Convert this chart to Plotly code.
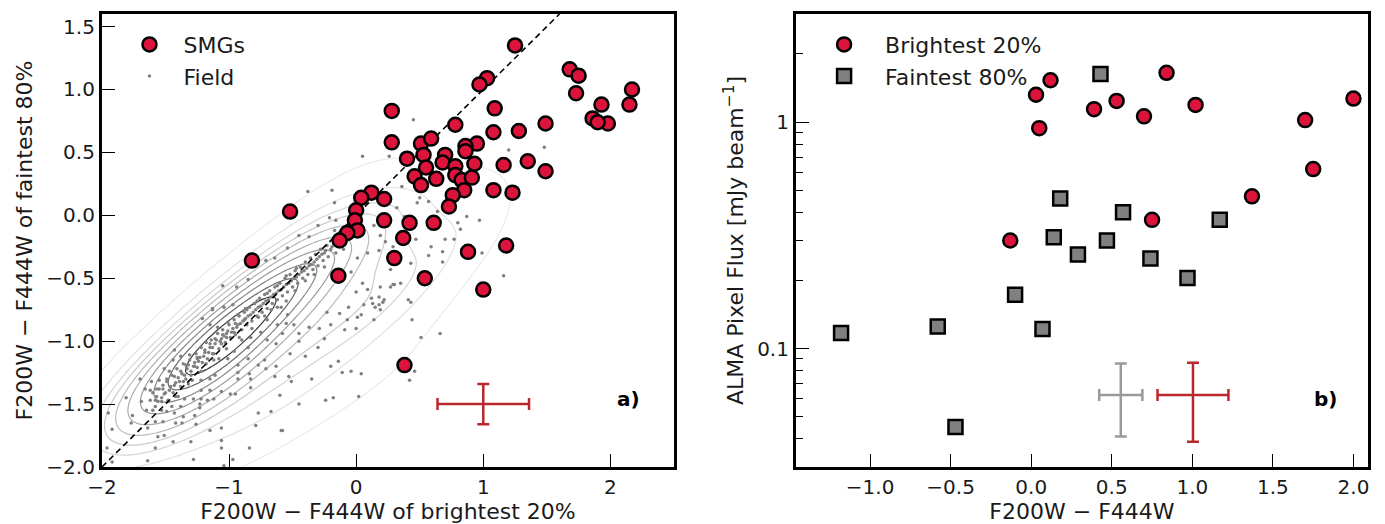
import numpy as np
import plotly.graph_objects as go

# ---------------- data: panel a ----------------
smg_x = [-0.82, -0.52, 1.25, 1.68, 1.75, 1.73, 2.17, 2.15, 1.93, 1.86, 1.98, 1.90,
         1.03, 0.97, 0.28, 1.09, 0.78, 1.49, 1.08, 1.28, 0.28, 0.51, 0.59, 0.95,
         0.86, 0.86, 0.40, 0.53, 0.70, 0.68, 0.93, 0.78, 0.55, 1.16, 1.35, 1.49,
         0.78, 0.46, 0.63, 0.83, 0.91, 0.51, 0.85, 1.08, 1.23, 0.76, 0.73, 0.12,
         0.04, 0.22, 0.00, -0.01, 0.01, -0.07, -0.13, 0.22, 0.42, 0.61, 0.37,
         0.88, 1.18, 0.30, -0.14, 0.54, 1.00, 0.38]
smg_y = [-0.36, 0.03, 1.35, 1.16, 1.11, 0.97, 1.00, 0.88, 0.88, 0.77, 0.73, 0.74,
         1.09, 1.04, 0.83, 0.85, 0.72, 0.73, 0.66, 0.67, 0.58, 0.57, 0.61, 0.57,
         0.55, 0.51, 0.45, 0.48, 0.48, 0.42, 0.41, 0.39, 0.38, 0.40, 0.43, 0.35,
         0.32, 0.31, 0.29, 0.28, 0.30, 0.24, 0.20, 0.20, 0.18, 0.16, 0.07, 0.18,
         0.14, 0.13, 0.04, -0.04, -0.12, -0.14, -0.20, -0.04, -0.06, -0.06, -0.18,
         -0.29, -0.24, -0.34, -0.48, -0.50, -0.59, -1.19]

field_pts = [
    (-1.95,-1.57),(-1.92,-1.70),(-1.96,-1.85),(-1.92,-1.96),(-1.81,-1.45),(-1.76,-1.59),(-1.77,-1.65),
    (-1.70,-1.30),(-1.64,-1.95),(-1.58,-1.85),(-1.56,-1.76),(-1.51,-1.75),(-1.64,-1.69),(-1.58,-1.64),
    (-1.52,-1.64),(-1.42,-1.65),(-1.37,-1.65),(-1.44,-1.80),(-1.30,-1.80),(-1.28,-1.94),(-1.26,-1.66),
    (-1.27,-1.59),(-1.23,-1.53),(-1.23,-1.50),(-1.28,-1.46),(-1.22,-1.46),(-1.17,-1.47),(-1.12,-1.46),
    (-1.15,-1.71),(-1.06,-1.69),(-1.06,-1.79),(-1.06,-1.85),(-1.04,-1.99),(-0.97,-1.94),(-0.84,-1.85),
    (-0.79,-1.67),(-0.77,-1.57),(-0.67,-1.56),(-0.58,-1.71),(-0.60,-1.43),(-0.64,-1.28),(-0.53,-1.28),
    (-0.51,-1.32),(-0.72,-1.15),(-0.77,-1.19),(-0.84,-1.26),(-0.83,-1.30),(-0.83,-1.37),(-0.93,-1.30),
    (-0.93,-1.25),(-0.99,-1.42),(-0.95,-1.42),(-1.06,-1.40),(-1.36,-1.60),(-1.43,-1.57),(-1.49,-1.56),
    (-1.53,-1.55),(-1.60,-1.55),(-1.65,-1.55),(-1.69,-1.48),(-1.66,-1.38),(-1.62,-1.39),(-1.57,-1.38),
    (-1.52,-1.38),(-1.61,-1.32),(-1.55,-1.31),(-1.49,-1.32),(-1.58,-1.47),(-1.53,-1.48),(-1.48,-1.47),
    (-1.40,-1.44),(-1.35,-1.46),(-1.45,-1.52),(-1.38,-1.52),(-1.51,-1.22),(-1.47,-1.24),(-1.43,-1.28),
    (-1.38,-1.24),(-1.44,-1.15),(-1.38,-1.12),(-1.43,-1.07),(-1.34,-1.19),(-1.27,-1.20),(-1.30,-1.27),
    (-1.22,-1.31),(-1.15,-1.30),(-1.11,-1.27),(-1.31,-1.11),(-1.25,-1.14),(-1.18,-1.18),(-1.19,-1.07),
    (-1.13,-1.10),(-1.08,-1.14),(-1.01,-1.14),(-0.96,-1.08),(-1.06,-1.02),(-1.11,-0.98),(-1.02,-0.97),
    (-0.96,-0.93),(-0.90,-0.99),(-0.85,-1.05),(-0.83,-0.97),(-0.75,-0.93),(-0.70,-0.99),(-0.63,-1.02),
    (-0.58,-0.94),(-0.62,-0.87),(-0.55,-0.86),(-0.70,-0.83),(-0.77,-0.81),(-0.88,-0.83),(-0.93,-0.79),
    (-1.01,-0.85),(-1.09,-0.89),(-1.15,-0.87),(-1.21,-0.82),(-1.13,-0.74),(-1.04,-0.73),(-0.97,-0.71),
    (-0.87,-0.74),(-0.80,-0.70),(-0.67,-0.75),(-0.59,-0.73),(-0.54,-0.79),(-0.93,-1.19),(-0.85,-1.14),
    (-0.71,-1.22),(-1.36,-1.32),(-1.22,-1.39),(-1.15,-1.39),
    (-0.38,0.19),(-0.19,0.20),(0.05,0.47),(0.26,0.47),(-0.17,0.10),(-0.30,-0.08),(-0.45,-0.16),
    (-0.37,-0.17),(-0.54,-0.26),(-0.64,-0.34),(-0.71,-0.36),(-0.85,-0.51),(-0.94,-0.57),(-1.05,-0.56),
    (-1.13,-0.75),(-0.17,-0.12),(-0.16,-0.04),(-0.21,-0.02),(0.14,-0.08),(0.19,-0.16),(0.23,-0.21),
    (0.29,-0.25),(0.18,-0.28),(0.09,-0.30),(0.01,-0.34),(-0.04,-0.45),(0.05,-0.54),(0.00,-0.61),
    (0.09,-0.59),(0.18,-0.65),(0.13,-0.70),(0.29,-0.55),(0.19,-0.75),(0.04,-0.79),(-0.07,-0.83),
    (-0.13,-0.78),(-0.23,-0.77),(-0.20,-0.87),(-0.09,-0.91),(0.00,-0.90),(-0.29,-0.90),(-0.37,-0.89),
    (-0.45,-0.94),(-0.49,-0.87),
    (0.32,0.06),(0.48,0.10),(0.38,-0.01),(0.87,-0.01),(0.97,-0.04),(0.80,-0.06),(0.82,-0.11),
    (0.70,-0.19),(0.77,-0.19),(0.99,-0.30),(1.16,-0.48),(0.68,-0.29),(0.68,-0.37),(0.57,-0.32),
    (0.43,-0.38),(0.35,-0.54),(0.30,-0.55),(0.41,-0.67),(0.44,-0.83),(0.51,-0.97),(0.66,-0.94),
    (0.46,-1.24),(0.42,-1.31),(0.22,-0.67),(0.18,-0.71),(0.14,-0.83),(0.12,-0.66),(0.06,-0.71),
    (0.01,-0.81),(-0.06,-0.73),(-0.14,-1.16),(-0.11,-1.25),(-0.04,-1.24),(0.04,-1.26),(-0.18,-1.45),
    (0.02,-1.44),(0.30,-0.35),(0.27,-0.43),(0.19,-0.57),(0.59,-0.25),(0.47,-0.19),(0.70,0.09),
    (0.64,0.03),(0.45,0.76),(1.20,0.52),(1.48,0.54),(0.36,0.23),(0.57,0.11),(0.50,0.14),
    (-0.24,-1.47),(-0.45,-1.50),(-0.59,-1.71),(0.43,-0.69),(0.15,-0.73),(0.21,-0.69),(0.27,-0.57),
    (-0.45,-1.00),(-0.52,-1.10),(-0.63,-1.20),(-0.40,-1.12),(-0.30,-1.05),(-0.25,-0.98),(-0.35,-1.30),
    (-0.20,-1.20),
    (-1.62,-1.47),(-1.60,-1.41),(-1.58,-1.52),(-1.57,-1.44),(-1.55,-1.38),(-1.53,-1.45),(-1.52,-1.35),
    (-1.50,-1.41),(-1.49,-1.30),(-1.48,-1.48),(-1.46,-1.36),(-1.45,-1.27),(-1.44,-1.41),(-1.42,-1.33),
    (-1.41,-1.22),(-1.40,-1.29),(-1.38,-1.36),(-1.37,-1.26),(-1.36,-1.18),(-1.34,-1.30),(-1.33,-1.22),
    (-1.31,-1.15),(-1.30,-1.24),(-1.29,-1.31),(-1.27,-1.17),(-1.26,-1.10),(-1.25,-1.21),(-1.23,-1.13),
    (-1.22,-1.05),(-1.21,-1.17),(-1.19,-1.09),(-1.18,-1.01),(-1.17,-1.14),(-1.15,-1.05),(-1.14,-0.99),
    (-1.12,-1.10),(-1.11,-1.02),(-1.09,-0.94),(-1.08,-1.06),(-1.06,-0.98),(-1.05,-0.91),(-1.03,-1.01),
    (-1.02,-0.94),(-1.00,-0.87),(-0.99,-0.97),(-0.97,-0.90),(-0.96,-0.83),(-0.95,-0.95),(-0.93,-0.87),
    (-0.92,-0.80),(-0.90,-0.91),(-0.89,-0.84),(-0.88,-0.77),(-0.86,-0.87),(-0.85,-0.80),(-0.84,-0.73),
    (-0.82,-0.84),(-0.81,-0.77),(-0.80,-0.70),(-0.78,-0.80),(-0.77,-0.73),(-0.76,-0.66),(-0.74,-0.77),
    (-0.73,-0.70),(-0.72,-0.63),(-0.70,-0.74),(-0.69,-0.67),(-0.68,-0.60),(-0.66,-0.70),(-0.65,-0.63),
    (-0.64,-0.57),(-0.62,-0.67),(-0.61,-0.60),(-0.60,-0.54),(-0.58,-0.64),(-0.57,-0.57),(-0.56,-0.50),
    (-0.54,-0.61),(-0.53,-0.54),(-0.52,-0.47),(-0.50,-0.57),(-0.49,-0.50),(-0.48,-0.44),(-0.46,-0.54),
    (-0.45,-0.47),(-0.44,-0.41),(-0.42,-0.50),(-0.41,-0.44),(-0.40,-0.37),(-0.38,-0.47),(-0.37,-0.40),
    (-0.36,-0.34),(-0.34,-0.43),(-0.33,-0.37),(-0.32,-0.31),(-0.30,-0.40),(-0.29,-0.33),(-0.28,-0.27),
    (-0.26,-0.36),(-0.25,-0.30),(-0.23,-0.24),(-0.22,-0.33),(-0.20,-0.27),(-0.18,-0.21),(-0.16,-0.30),
    (-0.14,-0.24),(-0.12,-0.18),(-0.10,-0.27),(-0.08,-0.21),(-0.05,-0.15),
    (-1.56,-1.48),(-1.51,-1.42),(-1.47,-1.39),(-1.43,-1.35),(-1.39,-1.32),(-1.35,-1.27),(-1.32,-1.19),
    (-1.28,-1.20),(-1.24,-1.16),(-1.20,-1.12),(-1.16,-1.09),(-1.13,-1.05),(-1.10,-0.99),(-1.07,-1.00),
    (-1.04,-0.96),(-1.01,-0.92),(-0.98,-0.93),(-0.94,-0.89),(-0.91,-0.86),(-0.87,-0.82),(-0.83,-0.79),
    (-0.79,-0.75),(-0.75,-0.72),(-0.71,-0.68),(-0.67,-0.65),(-0.63,-0.62),(-0.59,-0.59),(-0.55,-0.55),
    (-0.51,-0.52),(-0.47,-0.49),(-0.43,-0.45),(-0.39,-0.42),(-0.35,-0.39),(-0.31,-0.35),(-0.27,-0.31),
    (-0.24,-0.28),(-0.19,-0.25),(-0.15,-0.22),(-0.11,-0.23),(-0.07,-0.17),(-0.78,-0.68),(-0.70,-0.62),
    (-0.62,-0.56),(-0.55,-0.48),(-0.47,-0.42),(-0.86,-0.75),(-0.95,-0.86),(-1.05,-0.95),(-1.15,-1.02),
    (-1.25,-1.13),(-0.62,-0.73),(-0.55,-0.68),(-0.48,-0.60),(-0.40,-0.52),(-0.33,-0.47),(-0.25,-0.41),
    (-0.72,-0.80),(-0.82,-0.90),(-0.92,-0.97),(-1.02,-1.06),(-1.12,-1.15),(-1.22,-1.24),(-1.32,-1.34),
    (-1.42,-1.44),
]
field_x = [p[0] for p in field_pts]
field_y = [p[1] for p in field_pts]

diag_xy = [-2.0, 1.6]
err_a = dict(x=1.0, y=-1.5, dx=0.36, dy=0.16)

# ---------------- data: panel b ----------------
bright_x = [0.03, 0.12, 0.05, 0.39, 0.53, 0.70, 0.84, 1.02, 1.70, 1.75, 2.00, 1.37, 0.75, -0.13]
bright_y = [1.32, 1.53, 0.94, 1.14, 1.24, 1.06, 1.65, 1.19, 1.02, 0.62, 1.27, 0.47, 0.37, 0.30]
faint_x = [0.43, 0.18, 0.57, 1.17, 0.14, 0.47, 0.29, 0.74, 0.97, -0.10, -0.58, 0.07, -1.18, -0.47]
faint_y = [1.63, 0.46, 0.40, 0.37, 0.31, 0.30, 0.26, 0.25, 0.205, 0.173, 0.125, 0.122, 0.117, 0.045]
err_b_gray = dict(x=0.556, y=0.0623, dx=0.134, up=0.0236, down=0.0214)
err_b_red = dict(x=1.004, y=0.0623, dx=0.22, up=0.0242, down=0.0235)

RED = '#DC143C'
ERR_RED = '#B8282D'
FONT = 'DejaVu Sans'
TXT = '#1a1a1a'
NB = '\u00a0'

# ---------------- KDE contours for field ----------------
fx = np.array(field_x); fy = np.array(field_y)
data = np.vstack([fx, fy])
n = data.shape[1]
cov = np.cov(data) * n ** (-2.0 / 6.0) * 3.0
inv = np.linalg.inv(cov)
gx = np.linspace(-2.0, 2.5, 160)
gy = np.linspace(-2.0, 1.6, 140)
GX, GY = np.meshgrid(gx, gy)
pts = np.vstack([GX.ravel(), GY.ravel()])
d = pts[:, :, None] - data[:, None, :]
q = inv[0, 0] * d[0] ** 2 + 2 * inv[0, 1] * d[0] * d[1] + inv[1, 1] * d[1] ** 2
Z = np.exp(-0.5 * q).sum(axis=1).reshape(GX.shape)
zs = np.sort(Z.ravel())
cum = np.cumsum(zs); cum /= cum[-1]
props = np.linspace(0.05, 1.0, 11)[:-1]
levels = [zs[np.searchsorted(cum, p)] for p in props]
greys = ['#ebebeb', '#e2e2e2', '#d6d6d6', '#cacaca', '#bcbcbc', '#adadad', '#9c9c9c', '#888888', '#6a6a6a', '#3a3a3a']

fig = go.Figure()
for lv, col in zip(levels, greys):
    fig.add_trace(go.Contour(
        x=gx, y=gy, z=Z, xaxis='x', yaxis='y',
        contours=dict(start=lv, end=lv, size=1, coloring='none'),
        line=dict(color=col, width=1.2), showscale=False, showlegend=False,
        hoverinfo='skip'))

fig.add_trace(go.Scatter(x=field_x, y=field_y, mode='markers', name=NB * 2 + 'Field',
                         marker=dict(size=3.5, color='#808080'), xaxis='x', yaxis='y',
                         legend='legend', legendrank=2))
fig.add_trace(go.Scatter(x=diag_xy, y=diag_xy, mode='lines', showlegend=False,
                         line=dict(color='black', width=1.6, dash='6px,4px'), xaxis='x', yaxis='y'))
fig.add_trace(go.Scatter(x=smg_x, y=smg_y, mode='markers', name=NB * 2 + 'SMGs',
                         marker=dict(size=14, color=RED, line=dict(color='black', width=2.5)),
                         xaxis='x', yaxis='y', legend='legend', legendrank=1))
fig.add_trace(go.Scatter(x=[err_a['x']], y=[err_a['y']], mode='markers', showlegend=False,
                         marker=dict(size=1, color=ERR_RED),
                         error_x=dict(type='data', array=[err_a['dx']], color=ERR_RED, thickness=2.5, width=6),
                         error_y=dict(type='data', array=[err_a['dy']], color=ERR_RED, thickness=2.5, width=6),
                         xaxis='x', yaxis='y'))

fig.add_trace(go.Scatter(x=bright_x, y=bright_y, mode='markers', name=NB * 3 + 'Brightest 20%',
                         marker=dict(size=14, color=RED, line=dict(color='black', width=2.5)),
                         xaxis='x2', yaxis='y2', legend='legend2'))
fig.add_trace(go.Scatter(x=faint_x, y=faint_y, mode='markers', name=NB * 3 + 'Faintest 80%',
                         marker=dict(size=14, symbol='square', color='#808080', line=dict(color='black', width=2.5)),
                         xaxis='x2', yaxis='y2', legend='legend2'))
for e, col in [(err_b_gray, '#9a9a9a'), (err_b_red, ERR_RED)]:
    fig.add_trace(go.Scatter(x=[e['x']], y=[e['y']], mode='markers', showlegend=False,
                             marker=dict(size=1, color=col),
                             error_x=dict(type='data', array=[e['dx']], color=col, thickness=2.5, width=6),
                             error_y=dict(type='data', array=[e['up']], arrayminus=[e['down']],
                                          color=col, thickness=2.5, width=6),
                             xaxis='x2', yaxis='y2'))

axis_common = dict(showline=True, linewidth=3, linecolor='black', mirror=True,
                   ticks='inside', ticklen=13, tickwidth=1.2, tickcolor='black',
                   showgrid=False, zeroline=False, automargin=False,
                   tickfont=dict(family=FONT, size=20, color=TXT))
title_font = dict(family=FONT, size=22, color=TXT)

ydom = [0.1088, 0.9733]
fig.update_layout(
    width=1385, height=524, margin=dict(l=0, r=0, t=0, b=0, autoexpand=False),
    paper_bgcolor='white', plot_bgcolor='white',
    xaxis=dict(domain=[0.0736, 0.4866], range=[-2, 2.5], tickvals=[-2, -1, 0, 1, 2],
               anchor='y', title=dict(text='F200W − F444W of brightest 20%', font=title_font, standoff=8),
               **axis_common),
    yaxis=dict(domain=ydom, range=[-2, 1.6], tickvals=[-2, -1.5, -1, -0.5, 0, 0.5, 1, 1.5],
               tickformat='.1f', anchor='x',
               title=dict(text='F200W − F444W of faintest 80%', font=title_font, standoff=8),
               **axis_common),
    xaxis2=dict(domain=[0.5747, 0.9877], range=[-1.46, 2.09],
                tickvals=[-1, -0.5, 0, 0.5, 1, 1.5, 2], tickformat='.1f', anchor='y2',
                title=dict(text='F200W − F444W', font=title_font, standoff=8), **axis_common),
    yaxis2=dict(domain=ydom, type='log', range=[np.log10(0.03), np.log10(3)],
                tickvals=[0.1, 1], ticktext=['0.1', '1'], anchor='x2',
                minor=dict(tickvals=[0.03, 0.04, 0.05, 0.06, 0.07, 0.08, 0.09,
                                     0.2, 0.3, 0.4, 0.5, 0.6, 0.7, 0.8, 0.9, 2, 3],
                           ticks='inside', ticklen=7, tickwidth=1, tickcolor='black'),
                title=dict(text='ALMA Pixel Flux [mJy beam<sup>−1</sup>]', font=title_font, standoff=8),
                **axis_common),
    legend=dict(x=0.0935, y=0.955, xanchor='left', yanchor='top', bgcolor='rgba(0,0,0,0)',
                font=dict(family=FONT, size=22, color=TXT), itemsizing='trace',
                tracegroupgap=0),
    legend2=dict(x=0.595, y=0.955, xanchor='left', yanchor='top', bgcolor='rgba(0,0,0,0)',
                 font=dict(family=FONT, size=22, color=TXT), itemsizing='trace'),
    annotations=[
        dict(text='<b>a)</b>', xref='x domain', yref='y domain', x=0.945, y=0.12,
             showarrow=False, font=dict(family=FONT, size=20, color='black')),
        dict(text='<b>b)</b>', xref='x2 domain', yref='y2 domain', x=0.95, y=0.12,
             showarrow=False, font=dict(family=FONT, size=20, color='black')),
    ],
)

fig.write_html('out.html')
